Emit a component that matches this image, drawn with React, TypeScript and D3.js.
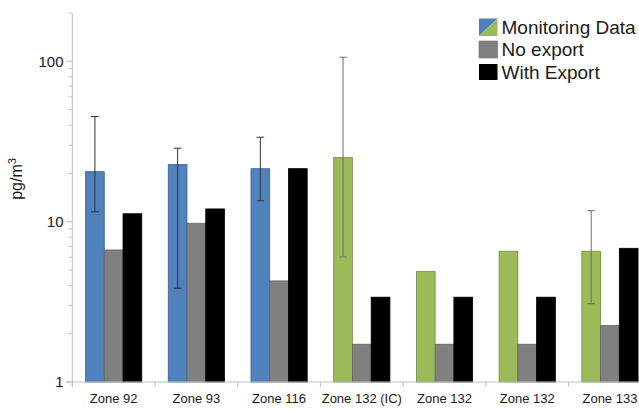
import React from "react";
import * as d3 from "d3";

const categories = ["Zone 92", "Zone 93", "Zone 116", "Zone 132 (IC)", "Zone 132 (SV)", "Zone 132 (SW)", "Zone 133 (SV)"];
const categoryLines = [["Zone 92"], ["Zone 93"], ["Zone 116"], ["Zone 132 (IC)"], ["Zone 132", "(SV)"], ["Zone 132", "(SW)"], ["Zone 133", "(SV)"]];
const monitoring = [20.5, 22.7, 21.4, 25.1, 4.88, 6.54, 6.54];
const monitoringSource = ["blue", "blue", "blue", "green", "green", "green", "green"];
const monitoringLow: (number | null)[] = [11.5, 3.84, 13.5, 6.02, null, null, 3.08];
const monitoringHigh: (number | null)[] = [45.2, 28.7, 33.6, 106, null, null, 11.7];
const noExport = [6.66, 9.77, 4.27, 1.72, 1.72, 1.72, 2.25];
const withExport = [11.2, 12.0, 21.4, 3.38, 3.38, 3.38, 6.82];
const majorTicks = [1, 10, 100];
const minorTicks = [2, 3, 4, 5, 6, 7, 8, 9, 20, 30, 40, 50, 60, 70, 80, 90, 200];
const legendLabels = ["Monitoring Data", "No export", "With Export"];

const W = 639, H = 409;
const FONT = "'Liberation Sans', Arial, sans-serif";
const fills: Record<string, string> = { blue: "#4F81BD", green: "#9BBB59", gray: "#808080", black: "#000000" };
const strokes: Record<string, string> = { blue: "#3B6796", green: "#728C40", gray: "#666666", black: "#000000" };

export default function App() {
  const x = d3.scaleBand<string>().domain(categories).range([72.3, 651.3]).paddingInner(0.32).paddingOuter(0.16);
  const sub = d3.scaleBand<number>().domain([0, 1, 2]).range([0, x.bandwidth()]);
  const y = d3.scaleLog().domain([1, 200]).range([382, 13]);
  const y0 = y(1);
  const step = x.step();
  const boundaries = d3.range(categories.length + 1).map(i => 72.3 + i * step);

  const bars: { key: string; x: number; y: number; w: number; h: number; c: string }[] = [];
  categories.forEach((c, i) => {
    const series = [
      { v: monitoring[i], c: monitoringSource[i] },
      { v: noExport[i], c: "gray" },
      { v: withExport[i], c: "black" },
    ];
    series.forEach((s, j) => {
      const bx = (x(c) as number) + (sub(j) as number);
      bars.push({ key: `${i}-${j}`, x: bx, y: y(s.v), w: sub.bandwidth(), h: y0 - y(s.v), c: s.c });
    });
  });

  return (
    <svg width={W} height={H} style={{ position: "fixed", left: 0, top: 0, background: "#fff" }} fontFamily={FONT}>
      <rect x={0} y={0} width={W} height={H} fill="#fff" />
      {/* bars */}
      {bars.map(b => (
        <rect key={b.key} x={b.x} y={b.y} width={b.w} height={b.h} fill={fills[b.c]} stroke={strokes[b.c]} strokeWidth={0.8} />
      ))}
      {/* error bars */}
      {categories.map((c, i) => {
        const lo = monitoringLow[i], hi = monitoringHigh[i];
        if (lo == null || hi == null) return null;
        const cx = (x(c) as number) + (sub(0) as number) + sub.bandwidth() / 2;
        const col = monitoringSource[i] === "blue" ? "#333333" : "#6e6e6e";
        return (
          <g key={"e" + i} stroke={col} strokeWidth={1}>
            <line x1={cx} x2={cx} y1={y(lo)} y2={y(hi)} />
            <line x1={cx - 3.8} x2={cx + 3.8} y1={y(lo)} y2={y(lo)} />
            <line x1={cx - 3.8} x2={cx + 3.8} y1={y(hi)} y2={y(hi)} />
          </g>
        );
      })}
      {/* y axis */}
      <line x1={72.3} x2={72.3} y1={y(200)} y2={387} stroke="#bfbfbf" strokeWidth={1} />
      {minorTicks.map(t => (
        <line key={"mn" + t} x1={68.5} x2={72.3} y1={y(t)} y2={y(t)} stroke="#bfbfbf" strokeWidth={1} />
      ))}
      {majorTicks.map(t => (
        <g key={"mj" + t}>
          <line x1={66} x2={72.3} y1={y(t)} y2={y(t)} stroke="#bfbfbf" strokeWidth={1} />
          <text x={63.5} y={y(t)} dy="0.35em" textAnchor="end" fontSize={15} fill="#1a1a1a">{t}</text>
        </g>
      ))}
      {/* x axis */}
      <line x1={66} x2={W} y1={y0} y2={y0} stroke="#bfbfbf" strokeWidth={1} />
      {boundaries.map((bx, i) => (
        <line key={"xb" + i} x1={bx} x2={bx} y1={y0} y2={387} stroke="#bfbfbf" strokeWidth={1} />
      ))}
      {categories.map((c, i) => {
        const cx = (x(c) as number) + x.bandwidth() / 2;
        return (
          <text key={"xl" + i} x={cx} y={403} textAnchor="middle" fontSize={13} fill="#1a1a1a">
            {categoryLines[i].map((l, k) => (
              <tspan key={k} x={cx} dy={k === 0 ? 0 : 14.5}>{l}</tspan>
            ))}
          </text>
        );
      })}
      {/* y label */}
      <text transform="translate(22,179) rotate(-90)" textAnchor="middle" fontSize={16} fill="#1a1a1a">
        pg/m<tspan fontSize={11} dy={-6}>3</tspan>
      </text>
      {/* legend */}
      <g>
        <polygon points="479,18.5 497.5,18.5 479,36" fill={fills.blue} />
        <polygon points="497.5,18.5 497.5,36 479,36" fill={fills.green} />
        <rect x={479} y={41} width={18.5} height={17} fill={fills.gray} stroke="#6f6f6f" strokeWidth={0.6} />
        <rect x={479} y={64} width={18.5} height={16} fill={fills.black} />
        {legendLabels.map((l, i) => (
          <text key={"lg" + i} x={501.5} y={33.5 + i * 22.8} fontSize={19} fill="#1a1a1a">{l}</text>
        ))}
      </g>
    </svg>
  );
}
